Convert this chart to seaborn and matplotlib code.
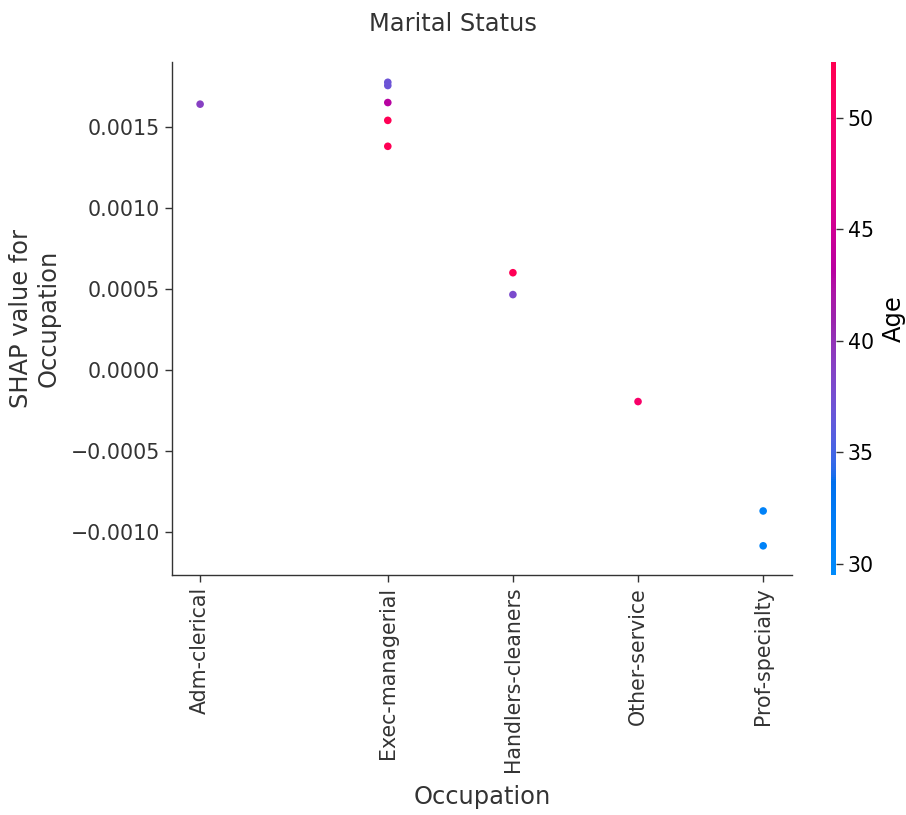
import numpy as np
import pandas as pd
import matplotlib
matplotlib.use("Agg")
import matplotlib.pyplot as plt
import seaborn as sns
from matplotlib.colors import LinearSegmentedColormap, Normalize
from matplotlib.cm import ScalarMappable

# Occupation categories (label-encoded positions) and tick labels
occupation_codes = [1, 4, 6, 8, 10]
occupation_labels = ["Adm-clerical", "Exec-managerial", "Handlers-cleaners",
                     "Other-service", "Prof-specialty"]

# Samples: encoded occupation, SHAP value and age
x_code = [1, 4, 4, 4, 4, 4, 6, 6, 8, 10, 10]
shap_vals = [0.001640, 0.001775, 0.001755, 0.001650, 0.001540, 0.001380,
             0.000600, 0.000465, -0.000195, -0.000870, -0.001085]
age = [39, 37, 37, 43, 52, 52, 52, 38, 50, 31, 31]

age_min, age_max = 29.5, 52.5


def lch_to_rgb(l, c, h):
    a, b = c * np.cos(h), c * np.sin(h)
    fy = (l + 16.0) / 116.0
    fx = fy + a / 500.0
    fz = fy - b / 200.0

    def finv(t):
        return t ** 3 if t > 6.0 / 29.0 else 3 * (6.0 / 29.0) ** 2 * (t - 4.0 / 29.0)

    xyz = np.array([0.95047 * finv(fx), 1.0 * finv(fy), 1.08883 * finv(fz)])
    m = np.array([[3.2406, -1.5372, -0.4986],
                  [-0.9689, 1.8758, 0.0415],
                  [0.0557, -0.2040, 1.0570]])
    lin = m @ xyz
    rgb = np.where(lin > 0.0031308, 1.055 * np.clip(lin, 0, None) ** (1 / 2.4) - 0.055, 12.92 * lin)
    return np.clip(rgb, 0, 1)


# Blue-to-red colormap interpolated in LCH space
blue_lch = [54.0, 70.0, 4.6588]
red_lch = [54.0, 90.0, 0.35470565 + 2 * np.pi]
l_mid = 40.0
nsteps = 100
l_vals = list(np.linspace(blue_lch[0], l_mid, nsteps // 2)) + list(np.linspace(l_mid, red_lch[0], nsteps // 2))
c_vals = np.linspace(blue_lch[1], red_lch[1], nsteps)
h_vals = np.linspace(blue_lch[2], red_lch[2], nsteps)
colors = [lch_to_rgb(l, c, h) for l, c, h in zip(l_vals, c_vals, h_vals)]
red_blue = LinearSegmentedColormap.from_list("red_blue", colors)

df = pd.DataFrame({"Occupation": x_code, "SHAP": shap_vals, "Age": age})

sns.set_style("white")
plt.rcParams["font.family"] = ["DejaVu Sans"]

text_color = "#333333"
fig = plt.figure(figsize=(9.06, 8.15), dpi=100)
ax = fig.add_axes([0.1898, 0.2945, 0.6843, 0.6294])
cax = fig.add_axes([0.917, 0.2945, 0.0055, 0.6294])

norm = Normalize(vmin=age_min, vmax=age_max)
sns.scatterplot(data=df, x="Occupation", y="SHAP", hue="Age", palette=red_blue,
                hue_norm=norm, s=30, linewidth=0, alpha=1, legend=False, ax=ax)

ax.set_xlim(0.55, 10.46)
ax.set_ylim(-0.001265, 0.0019)
ax.set_xticks(occupation_codes)
ax.set_xticklabels(occupation_labels, rotation=90)
ax.set_yticks([-0.0010, -0.0005, 0.0, 0.0005, 0.0010, 0.0015])
ax.set_yticklabels(["\u22120.0010", "\u22120.0005", "0.0000", "0.0005", "0.0010", "0.0015"])
ax.tick_params(axis="both", labelsize=14.8, labelcolor=text_color, color=text_color,
               length=5, width=1, direction="out", bottom=True, left=True)
ax.set_xlabel("Occupation", fontsize=17.4, color=text_color, labelpad=9)
ax.set_ylabel("SHAP value for\nOccupation", fontsize=17.4, color=text_color, labelpad=7)
for side in ["top", "right"]:
    ax.spines[side].set_visible(False)
for side in ["left", "bottom"]:
    ax.spines[side].set_color(text_color)
    ax.spines[side].set_linewidth(1)

sm = ScalarMappable(norm=norm, cmap=red_blue)
cb = fig.colorbar(sm, cax=cax)
cb.outline.set_visible(False)
cb.set_ticks([30, 35, 40, 45, 50])
cb.ax.tick_params(labelsize=14.8, length=5, width=1, color=text_color, labelcolor="black")
cb.set_label("Age", fontsize=17.4, labelpad=6, color="black")

fig.suptitle("Marital Status", fontsize=17.4, color=text_color, x=0.5, y=0.985)

fig.savefig("out.png", dpi=100)
